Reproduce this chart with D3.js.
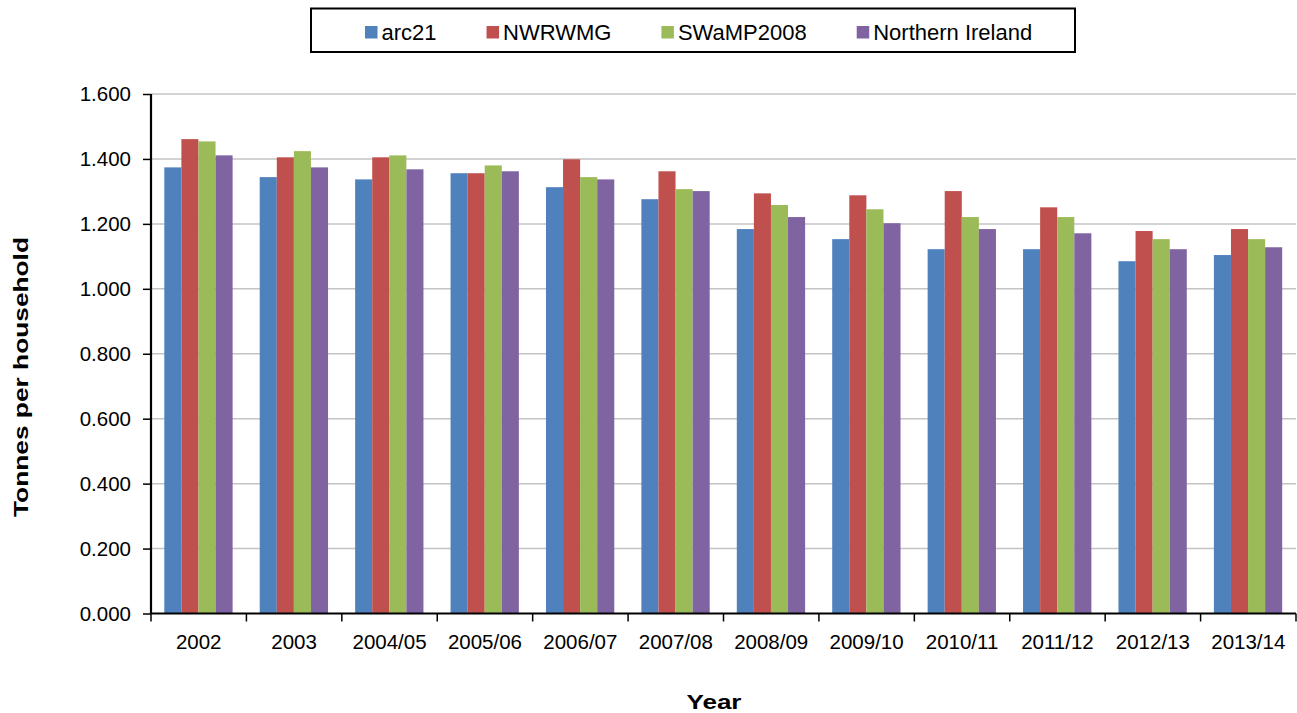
<!DOCTYPE html>
<html>
<head>
<meta charset="utf-8">
<script src="https://cdn.jsdelivr.net/npm/d3@7"></script>
<style>
  html, body { margin: 0; padding: 0; background: #ffffff; }
  svg { display: block; font-family: "Liberation Sans", Arial, sans-serif; }
</style>
</head>
<body>
<svg id="chart" width="1297" height="713"></svg>
<script>
// Household waste per household by waste management group
const years = ["2002", "2003", "2004/05", "2005/06", "2006/07", "2007/08",
               "2008/09", "2009/10", "2010/11", "2011/12", "2012/13", "2013/14"];
const seriesNames = ["arc21", "NWRWMG", "SWaMP2008", "Northern Ireland"];
const arc21    = [1.374, 1.344, 1.337, 1.356, 1.313, 1.276, 1.184, 1.153, 1.122, 1.122, 1.085, 1.104];
const nwrwmg   = [1.461, 1.405, 1.405, 1.356, 1.399, 1.362, 1.294, 1.288, 1.301, 1.251, 1.178, 1.184];
const swamp    = [1.454, 1.424, 1.411, 1.380, 1.344, 1.307, 1.258, 1.245, 1.221, 1.221, 1.153, 1.153];
const nIreland = [1.411, 1.374, 1.368, 1.362, 1.337, 1.301, 1.221, 1.202, 1.184, 1.171, 1.122, 1.128];
const yTicks = [0, 0.2, 0.4, 0.6, 0.8, 1.0, 1.2, 1.4, 1.6];
const colors = ["#4F81BD", "#C0504D", "#9BBB59", "#8064A2"];

const seriesValues = [arc21, nwrwmg, swamp, nIreland];

const svg = d3.select("#chart");
const plotLeft = 151, plotRight = 1296, plotTop = 94, plotBottom = 613.5;

const x = d3.scaleBand().domain(years).range([plotLeft, plotRight]).paddingInner(0).paddingOuter(0);
const groupPad = 13.3;
const xs = d3.scaleBand().domain(seriesNames)
  .range([groupPad, x.bandwidth() - groupPad - 0.5]).padding(0);
const y = d3.scaleLinear().domain([0, 1.6]).range([plotBottom, plotTop]);

// gridlines
svg.append("g").selectAll("line").data(yTicks.filter(d => d > 0)).join("line")
  .attr("x1", plotLeft).attr("x2", plotRight)
  .attr("y1", d => y(d)).attr("y2", d => y(d))
  .attr("stroke", "#c4c4c4").attr("stroke-width", 1.5);

// bars
const groups = svg.append("g").selectAll("g").data(years).join("g")
  .attr("transform", d => `translate(${x(d)},0)`);
groups.selectAll("rect")
  .data((yr, i) => seriesNames.map((s, k) => ({ s, k, v: seriesValues[k][i] })))
  .join("rect")
  .attr("x", d => xs(d.s))
  .attr("width", xs.bandwidth())
  .attr("y", d => y(d.v))
  .attr("height", d => y(0) - y(d.v))
  .attr("fill", d => colors[d.k]);

// y axis
const yAxis = d3.axisLeft(y).tickValues(yTicks).tickFormat(d3.format(".3f"))
  .tickSize(8).tickPadding(12);
const gy = svg.append("g").attr("transform", `translate(${plotLeft},0)`).call(yAxis);
gy.select(".domain").attr("stroke", "#000").attr("stroke-width", 2.2)
  .attr("d", `M0,${plotTop}V${plotBottom}`);
gy.selectAll(".tick line").attr("stroke", "#000").attr("stroke-width", 1.5);
gy.selectAll("text").attr("font-size", 20.5).attr("fill", "#000")
  .attr("font-family", "Liberation Sans, Arial, sans-serif");

// x axis with ticks at category boundaries
const gx = svg.append("g").attr("transform", `translate(0,${plotBottom})`);
gx.append("line").attr("x1", plotLeft).attr("x2", plotRight).attr("y1", 0).attr("y2", 0)
  .attr("stroke", "#000").attr("stroke-width", 2.2);
const boundaries = years.map(d => x(d)).concat([x(years[years.length - 1]) + x.bandwidth()]);
gx.selectAll("line.tk").data(boundaries).join("line").attr("class", "tk")
  .attr("x1", d => d).attr("x2", d => d).attr("y1", 0).attr("y2", 8)
  .attr("stroke", "#000").attr("stroke-width", 1.5);
gx.selectAll("text").data(years).join("text")
  .attr("x", d => x(d) + x.bandwidth() / 2)
  .attr("y", 35.5)
  .attr("text-anchor", "middle")
  .attr("font-size", 20.5)
  .attr("fill", "#000")
  .text(d => d);

// axis titles
svg.append("text")
  .attr("transform", "translate(28,377) rotate(-90)")
  .attr("text-anchor", "middle")
  .attr("font-size", 21).attr("font-weight", "bold")
  .attr("textLength", 280).attr("lengthAdjust", "spacingAndGlyphs")
  .text("Tonnes per household");
svg.append("text")
  .attr("x", 714).attr("y", 709)
  .attr("text-anchor", "middle")
  .attr("font-size", 21).attr("font-weight", "bold")
  .attr("textLength", 55).attr("lengthAdjust", "spacingAndGlyphs")
  .text("Year");

// legend
const lg = svg.append("g");
lg.append("rect").attr("x", 311).attr("y", 8.5).attr("width", 764).attr("height", 43.5)
  .attr("fill", "#fff").attr("stroke", "#000").attr("stroke-width", 2);
let cx = 365;
seriesNames.forEach((name, k) => {
  lg.append("rect").attr("x", cx).attr("y", 26).attr("width", 12.5).attr("height", 12.5)
    .attr("fill", colors[k]);
  const t = lg.append("text").attr("x", cx + 16.5).attr("y", 39.5)
    .attr("font-size", 22).attr("fill", "#000").text(name);
  cx += 16.5 + t.node().getComputedTextLength() + 50;
});
</script>
</body>
</html>
